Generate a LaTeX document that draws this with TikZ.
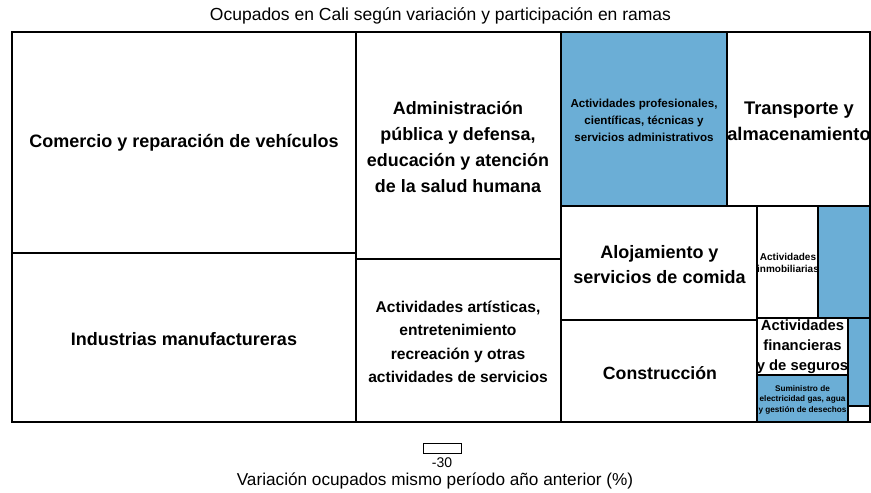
\documentclass[tikz,border=0pt]{standalone}
\usepackage{fontspec}
\setmainfont{Liberation Sans}
\definecolor{cellblue}{RGB}{107,174,214}
\tikzset{
  cell/.style={draw=black, line width=1.6pt, fill=white},
  bcell/.style={draw=black, line width=1.6pt, fill=cellblue},
  lab/.style={align=center, inner sep=0pt, font=\bfseries},
}
\newcommand{\fs}[2]{\fontsize{#1}{#2}\selectfont}
\begin{document}
\begin{tikzpicture}[x=1pt,y=-1pt]
\useasboundingbox[fill=white] (0,0) rectangle (871,493);
% cells
\path[cell] (12,32) rectangle (356,253);
\path[cell] (12,253) rectangle (356,422);
\path[cell] (356,32) rectangle (561,259);
\path[cell] (356,259) rectangle (561,422);
\path[bcell] (561,32) rectangle (727,206);
\path[cell] (727,32) rectangle (870,206);
\path[cell] (561,206) rectangle (757,320);
\path[cell] (561,320) rectangle (757,422);
\path[cell] (757,206) rectangle (818,318);
\path[bcell] (818,206) rectangle (870,318);
\path[cell] (757,318) rectangle (848,375);
\path[bcell] (757,375) rectangle (848,422);
\path[bcell] (848,318) rectangle (870,406);
\path[cell] (848,406) rectangle (870,422);
\draw[line width=1.8pt] (12,32) rectangle (870,422);
% labels
\node[lab, font=\bfseries\fs{18}{20}] (comercio) at (184,143) {Comercio y reparación de vehículos};
\node[lab, font=\bfseries\fs{18}{20}] (industrias) at (184,339) {Industrias manufactureras};
\node[lab, font=\bfseries\fs{17.9}{26}] (admin) at (458,147) {Administración\\pública y defensa,\\educación y atención\\de la salud humana};
\node[lab, font=\bfseries\fs{15.6}{23.3}] (artisticas) at (458,342) {Actividades artísticas,\\entretenimiento\\recreación y otras\\actividades de servicios};
\node[lab, font=\bfseries\fs{11.6}{17}] (profesionales) at (644,120) {Actividades profesionales,\\científicas, técnicas y\\servicios administrativos};
\node[lab, font=\bfseries\fs{18.3}{26}] (transporte) at (799,121) {Transporte y\\almacenamiento};
\node[lab, font=\bfseries\fs{18}{25}] (alojamiento) at (659.5,264.5) {Alojamiento y\\servicios de comida};
\node[lab, font=\bfseries\fs{17.7}{20}] (construccion) at (660,373) {Construcción};
\node[lab, font=\bfseries\fs{10}{12}] (inmobiliarias) at (788,263) {Actividades\\inmobiliarias};
\node[lab, font=\bfseries\fs{14.8}{20}] (financieras) at (802.5,347) {Actividades\\financieras\\y de seguros};
\node[lab, font=\bfseries\fs{8.2}{10.5}] (suministro) at (802.5,399.5) {Suministro de\\electricidad gas, agua\\y gestión de desechos};
% title
\node[inner sep=0pt, font=\fs{17.5}{20}] (title) at (440.5,16) {Ocupados en Cali según variación y participación en ramas};
% legend
\draw[line width=0.9pt, fill=white] (423,443) rectangle (461,453);
\coordinate (legbox) at (442,448);
\node[inner sep=0pt, font=\fs{14}{16}] (legval) at (442,463) {-30};
\node[inner sep=0pt, font=\fs{17.2}{20}] (legtitle) at (435,481) {Variación ocupados mismo período año anterior (\%)};
\end{tikzpicture}
\end{document}
